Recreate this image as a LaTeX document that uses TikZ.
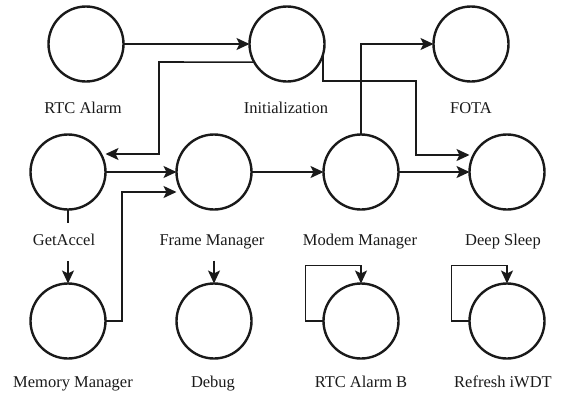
\documentclass[tikz,border=0pt]{standalone}
\usepackage{fontspec}
\setmainfont{Liberation Serif}
\usetikzlibrary{arrows.meta}
\definecolor{ink}{HTML}{1A1A1A}
\begin{document}
\begin{tikzpicture}[x=1pt,y=-1pt,
  state/.style={circle,draw=ink,line width=2.4pt,minimum size=75pt,inner sep=0pt,outer sep=0pt},
  lbl/.style={font=\fontsize{16.5}{18}\selectfont,text=ink,inner sep=0pt,minimum height=38pt,text height=11pt,text depth=3.5pt},
  arr/.style={draw=ink,line width=1.6pt,-{Stealth[length=13pt,width=12pt,inset=3pt]}}]
\useasboundingbox (0,0) rectangle (564,394);
% states
\node[state] (rtc)  at (86,44) {};
\node[state] (init) at (287,44) {};
\node[state] (fota) at (471,44) {};
\node[state] (ga)   at (68,172) {};
\node[state] (fm)   at (214,172) {};
\node[state] (mom)  at (361,172) {};
\node[state] (ds)   at (507,172) {};
\node[state] (mm)   at (68,321) {};
\node[state] (db)   at (214,321) {};
\node[state] (rb)   at (361,321) {};
\node[state] (iw)   at (507,321) {};
% connectors
\draw[arr] (rtc) -- (init);
\draw[arr] (init.209) -- (159,62) |- ([yshift=18pt]ga.east);
\draw[arr] (init.-15) |- (416,81) |- ([yshift=17pt]ds.west);
\draw[arr] (ga) -- (fm);
\draw[arr] (mm.east) -- (122,321) |- ([yshift=-20pt]fm.west);
\draw[arr] (fm) -- (mom);
\draw[arr] (mom.north) |- (fota.west);
\draw[arr] (mom) -- (ds);
\draw[arr] (ga) -- (mm);
\draw[arr] (rb.west) -- ++(-18,0) |- ([yshift=18pt]rb.north) -- (rb.north);
\draw[arr] (iw.west) -- ++(-18,0) |- ([yshift=18pt]iw.north) -- (iw.north);
% labels
\node[lbl] (rtcl)  at (83,110)    {RTC Alarm};
\node[lbl] (initl) at (286,110)   {Initialization};
\node[lbl] (fotal) at (471,110)   {FOTA};
\node[lbl,fill=white] (gal) at (64,241.5) {GetAccel};
\node[lbl] (fml)   at (212,241.5) {Frame Manager};
\node[lbl] (moml)  at (360,241.5) {Modem Manager};
\node[lbl] (dsl)   at (503,241.5) {Deep Sleep};
\node[lbl] (mml)   at (73,384)    {Memory Manager};
\node[lbl] (dbl)   at (213,384)   {Debug};
\node[lbl] (rbl)   at (361,384)   {RTC Alarm B};
\node[lbl] (iwl)   at (503,384)   {Refresh iWDT};
\draw[arr] (fml.south -| db.north) -- (db.north);
\end{tikzpicture}
\end{document}
